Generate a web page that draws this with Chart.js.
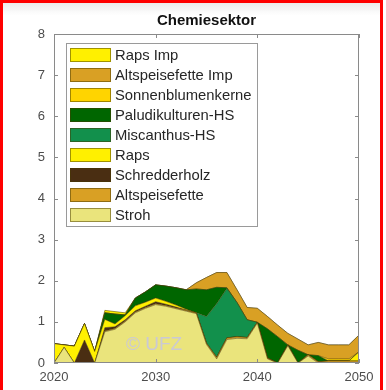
<!DOCTYPE html>
<html>
<head>
<meta charset="utf-8">
<script src="https://cdn.jsdelivr.net/npm/chart.js@4.4.1/dist/chart.umd.min.js"></script>
<style>
  html, body { margin: 0; padding: 0; background: #fff; }
  #wrap { position: relative; width: 386px; height: 390px; overflow: hidden; }
  #frame { position: absolute; left: 0; top: 0; width: 383px; height: 420px; box-sizing: border-box;
           border: 3px solid #ff0000; border-bottom: none; pointer-events: none; }
  #shade { position: absolute; left: 3px; top: 3px; width: 377px; height: 12px;
           background: linear-gradient(#ececec, rgba(255,255,255,0)); }
</style>
</head>
<body>
<div id="wrap">
  <div id="shade"></div>
  <canvas id="chemChart" width="386" height="390"></canvas>
  <div id="frame"></div>
</div>
<script>
// years 2020..2050
var years = [];
for (var y = 2020; y <= 2050; y++) years.push(y);

// values per source, bottom of the stack first
var stroh         = [0, 0.38, 0, 0, 0, 0.76, 0.82, 1.0, 1.22, 1.33, 1.42, 1.38, 1.32, 1.26, 1.2, 0.45, 0.1, 0.57, 0.6, 0.59, 0.97, 0.1, 0, 0.42, 0, 0.17, 0, 0, 0, 0, 0];
var altspeise     = [0, 0, 0, 0, 0, 0.02, 0.02, 0.02, 0.02, 0.02, 0.02, 0.02, 0.02, 0.02, 0.02, 0.03, 0.04, 0.04, 0.04, 0.03, 0.02, 0.02, 0, 0.02, 0, 0.03, 0.03, 0.05, 0.05, 0.05, 0.05];
var schredder     = [0, 0, 0, 0.56, 0, 0.08, 0.04, 0.03, 0.03, 0.03, 0.05, 0.03, 0.02, 0.01, 0, 0, 0, 0, 0, 0, 0, 0, 0, 0, 0, 0, 0, 0, 0, 0, 0];
var raps          = [0.47, 0.06, 0.41, 0.4, 0.28, 0.2, 0.07, 0.1, 0.12, 0.1, 0.09, 0.07, 0.05, 0.02, 0, 0, 0, 0, 0, 0, 0, 0, 0, 0, 0, 0, 0, 0, 0, 0, 0.22];
var miscanthus    = [0, 0, 0, 0, 0, 0, 0, 0, 0, 0, 0, 0, 0, 0, 0, 0.65, 1.3, 1.2, 0.83, 0.43, 0, 0, 0, 0, 0, 0, 0, 0, 0, 0, 0];
var paludi        = [0, 0, 0, 0, 0, 0.16, 0.24, 0.02, 0.19, 0.25, 0.32, 0.37, 0.42, 0.47, 0.58, 0.65, 0.4, 0.02, 0, 0, 0, 0.71, 0.64, 0, 0.31, 0, 0.15, 0, 0, 0, 0];
var sonnenblumen  = [0, 0, 0, 0, 0, 0, 0, 0, 0, 0, 0, 0, 0, 0, 0, 0, 0, 0, 0, 0, 0, 0, 0, 0, 0, 0, 0, 0.05, 0.05, 0.05, 0];
var altspeiseImp  = [0, 0, 0, 0, 0, 0, 0, 0, 0, 0, 0, 0, 0, 0, 0.15, 0.3, 0.36, 0.37, 0.31, 0.3, 0.34, 0.3, 0.28, 0.28, 0.27, 0.24, 0.32, 0.34, 0.34, 0.34, 0.41];
var rapsImp       = [0, 0, 0, 0, 0, 0.06, 0.06, 0.05, 0, 0, 0, 0, 0, 0, 0, 0, 0, 0, 0, 0, 0, 0, 0, 0, 0, 0, 0, 0, 0, 0, 0];

var seriesNames  = ['Stroh', 'Altspeisefette', 'Schredderholz', 'Raps', 'Miscanthus-HS', 'Paludikulturen-HS', 'Sonnenblumenkerne', 'Altspeisefette Imp', 'Raps Imp'];
var seriesValues = [stroh, altspeise, schredder, raps, miscanthus, paludi, sonnenblumen, altspeiseImp, rapsImp];
var seriesColors = ['#eae47c', '#d9a024', '#4a2e12', '#fff000', '#12904c', '#006600', '#ffd400', '#d9a024', '#fff000'];

var yTicks = [0, 1, 2, 3, 4, 5, 6, 7, 8];
var xTicks = [2020, 2030, 2040, 2050];

var edge = 'rgba(70,55,0,0.5)';
var datasets = seriesNames.map(function (name, i) {
    return {
        label: name,
        data: seriesValues[i],
        backgroundColor: seriesColors[i],
        borderColor: edge,
        borderWidth: 1,
        pointRadius: 0,
        tension: 0,
        fill: i === 0 ? 'origin' : '-1'
    };
});

// title, box, inward ticks, watermark and legend in MATLAB style
var decor = {
    id: 'decor',
    afterDatasetsDraw: function (chart) {
        var c = chart.ctx, a = chart.chartArea;
        var xs = chart.scales.x, ys = chart.scales.y;
        c.save();
        // watermark
        c.font = '19px "Liberation Sans", Arial, sans-serif';
        c.fillStyle = 'rgba(196,196,228,0.85)';
        c.textAlign = 'center';
        c.textBaseline = 'middle';
        c.fillText('\u00a9 UFZ', 154, 345);
        // box
        c.strokeStyle = '#8a8a8a';
        c.lineWidth = 1;
        c.strokeRect(a.left + 0.5, a.top + 0.5, a.right - a.left - 1, a.bottom - a.top - 1);
        // ticks
        c.beginPath();
        yTicks.forEach(function (v) {
            var p = Math.round(ys.getPixelForValue(v)) + 0.5;
            c.moveTo(a.left, p); c.lineTo(a.left + 4, p);
            c.moveTo(a.right, p); c.lineTo(a.right - 4, p);
        });
        xTicks.forEach(function (v) {
            var p = Math.round(xs.getPixelForValue(v)) + 0.5;
            c.moveTo(p, a.bottom); c.lineTo(p, a.bottom - 4);
            c.moveTo(p, a.top); c.lineTo(p, a.top + 4);
        });
        c.stroke();
        // title
        c.font = 'bold 15px "Liberation Sans", Arial, sans-serif';
        c.fillStyle = '#111';
        c.fillText('Chemiesektor', (a.left + a.right) / 2, 21);
        c.restore();
    },
    afterDraw: function (chart) {
        var c = chart.ctx;
        var lx = 66, ly = 43, lw = 192, lh = 184;
        c.save();
        c.fillStyle = '#fff';
        c.fillRect(lx, ly, lw, lh);
        c.strokeStyle = '#9a9a9a';
        c.lineWidth = 1;
        c.strokeRect(lx + 0.5, ly + 0.5, lw - 1, lh - 1);
        c.font = '14.8px "Liberation Sans", Arial, sans-serif';
        c.textAlign = 'left';
        c.textBaseline = 'middle';
        for (var k = 0; k < seriesNames.length; k++) {
            var i = seriesNames.length - 1 - k;
            var top = 48 + k * 20;
            c.fillStyle = seriesColors[i];
            c.fillRect(70, top, 41, 14);
            c.strokeStyle = edge;
            c.strokeRect(70.5, top + 0.5, 40, 13);
            c.fillStyle = '#262626';
            c.fillText(seriesNames[i], 115, top + 7.5);
        }
        c.restore();
    }
};

var ctx = document.getElementById('chemChart').getContext('2d');

var chemChart = new Chart(ctx, {
    type: 'line',
    data: { labels: years, datasets: datasets },
    options: {
        responsive: false,
        animation: false,
        layout: { padding: { top: 34, right: 27, left: 0, bottom: 0 } },
        plugins: {
            legend: { display: false },
            tooltip: { enabled: false }
        },
        scales: {
            x: {
                type: 'linear',
                min: 2020,
                max: 2050,
                afterFit: function (s) { s.height = 27; },
                afterBuildTicks: function (s) { s.ticks = xTicks.map(function (v) { return { value: v }; }); },
                grid: { display: false, drawTicks: false },
                border: { display: false },
                ticks: {
                    padding: 7,
                    color: '#4d4d4d',
                    font: { family: '"Liberation Sans", Arial, sans-serif', size: 13 },
                    maxRotation: 0,
                    callback: function (v) { return String(v); }
                }
            },
            y: {
                stacked: true,
                min: 0,
                max: 8,
                afterFit: function (s) { s.width = 54; },
                afterBuildTicks: function (s) { s.ticks = yTicks.map(function (v) { return { value: v }; }); },
                grid: { display: false, drawTicks: false },
                border: { display: false },
                ticks: {
                    padding: 9,
                    color: '#4d4d4d',
                    font: { family: '"Liberation Sans", Arial, sans-serif', size: 13 }
                }
            }
        }
    },
    plugins: [decor]
});
</script>
</body>
</html>
